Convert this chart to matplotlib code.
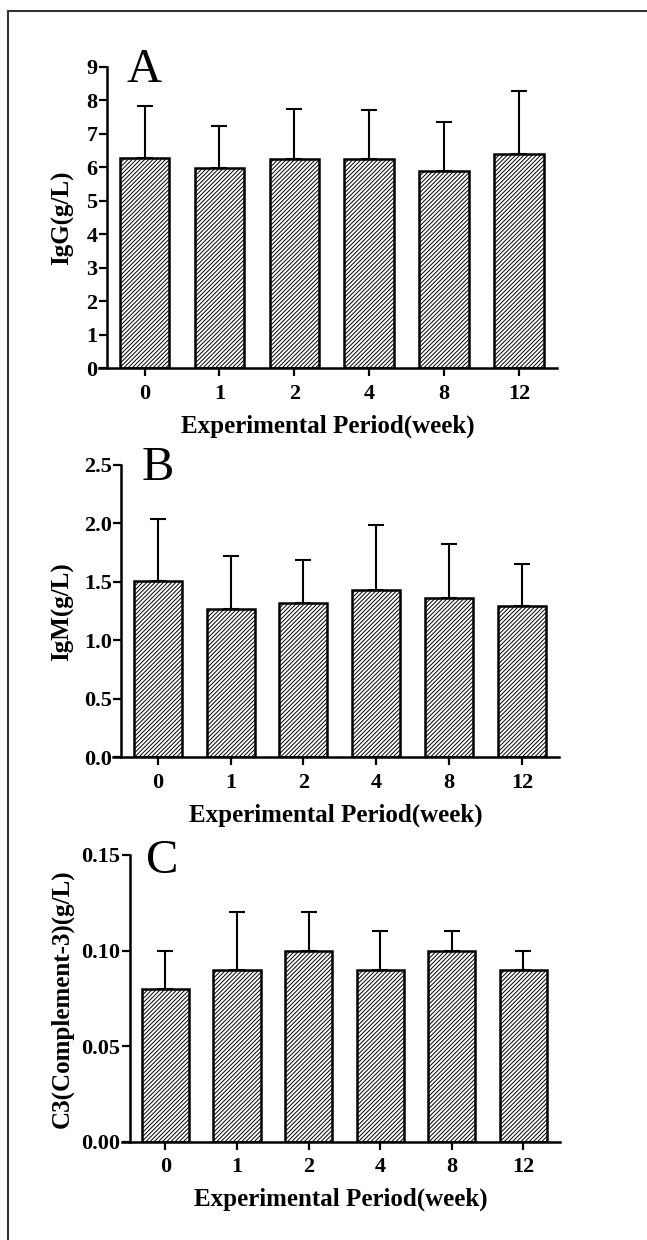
import matplotlib.pyplot as plt
from matplotlib.patches import Rectangle
import numpy as np

# data
weeks = ['0', '1', '2', '4', '8', '12']

igg_mean = [6.27, 5.99, 6.25, 6.25, 5.90, 6.40]
igg_upper = [7.83, 7.23, 7.75, 7.71, 7.36, 8.29]

igm_mean = [1.51, 1.27, 1.32, 1.43, 1.36, 1.29]
igm_upper = [2.04, 1.72, 1.69, 1.99, 1.82, 1.65]

c3_mean = [0.08, 0.09, 0.10, 0.09, 0.10, 0.09]
c3_upper = [0.10, 0.12, 0.12, 0.11, 0.11, 0.10]

plt.rcParams['font.family'] = ['Liberation Serif', 'DejaVu Serif']
plt.rcParams['hatch.linewidth'] = 0.7

fig = plt.figure(figsize=(6.47, 12.4), dpi=100)

panels = [
    # rect, mean, upper, ymax, yticks, fmt, ylabel, letter, letter pos, label x
    ([0.153, 0.703, 0.708, 0.2432], igg_mean, igg_upper, 9, np.arange(0, 10, 1), '{:.0f}',
     'IgG(g/L)', 'A', (0.195, 0.934), -0.054),
    ([0.1753, 0.3893, 0.6887, 0.2357], igm_mean, igm_upper, 2.5, np.arange(0, 2.51, 0.5), '{:.1f}',
     'IgM(g/L)', 'B', (0.2195, 0.613), -0.088),
    ([0.1881, 0.0793, 0.6774, 0.2312], c3_mean, c3_upper, 0.15, [0, 0.05, 0.10, 0.15], '{:.2f}',
     'C3(Complement-3)(g/L)', 'C', (0.2257, 0.296), -0.11),
]

x = np.arange(len(weeks))

for rect, mean, upper, ymax, yticks, fmt, ylabel, letter, lpos, labx in panels:
    ax = fig.add_axes(rect)
    mean = np.array(mean)
    err = np.array(upper) - mean
    ax.errorbar(x, mean, yerr=[np.zeros_like(err), err], fmt='none', ecolor='black',
                elinewidth=1.5, capsize=6, capthick=1.5, zorder=1)
    ax.bar(x, mean, width=0.66, color='white', edgecolor='black', linewidth=1.8,
           hatch='////////', zorder=2)
    ax.set_xlim(-0.61, 5.51)
    ax.set_ylim(0, ymax)
    ax.set_xticks(x)
    ax.set_xticklabels(weeks)
    ax.set_yticks(yticks)
    ax.set_yticklabels([fmt.format(v) for v in yticks])
    ax.spines['top'].set_visible(False)
    ax.spines['right'].set_visible(False)
    ax.spines['left'].set_position(('data', -0.5))
    ax.spines['left'].set_linewidth(1.8)
    ax.spines['bottom'].set_linewidth(1.8)
    ax.tick_params(axis='both', direction='out', length=6, width=1.6, labelsize=16)
    ax.tick_params(axis='y', pad=1)
    ax.tick_params(axis='x', pad=5)
    for t in ax.get_xticklabels() + ax.get_yticklabels():
        t.set_fontweight('bold')
    ax.set_xlabel('Experimental Period(week)', fontsize=18, fontweight='bold', labelpad=8)
    ax.set_ylabel(ylabel, fontsize=18, fontweight='bold')
    ax.yaxis.set_label_coords(labx, 0.5)
    fig.text(lpos[0], lpos[1], letter, fontsize=35, ha='left', va='baseline')

# frame around the figure (cropped at right and bottom)
fig.patches.append(Rectangle((8 / 647, -0.1), 1.2, 1229 / 1240 + 0.1, transform=fig.transFigure,
                             fill=False, edgecolor='#333333', linewidth=1.5))

fig.savefig('out.png', dpi=100)
